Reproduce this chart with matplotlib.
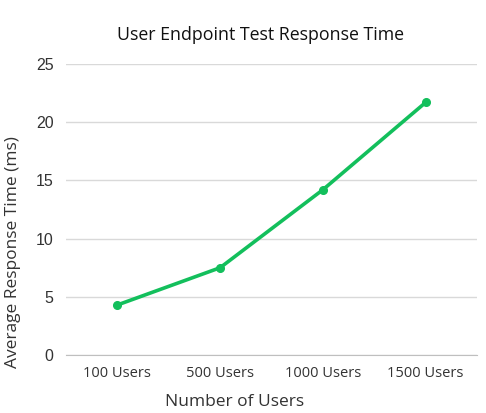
import matplotlib
matplotlib.use("Agg")
import matplotlib.pyplot as plt

categories = ["100 Users", "500 Users", "1000 Users", "1500 Users"]
response_ms = [4.3, 7.5, 14.2, 21.7]
y_ticks = [0, 5, 10, 15, 20, 25]

plt.rcParams['font.family'] = ['Open Sans', 'DejaVu Sans']

fig = plt.figure(figsize=(4.86, 4.13), dpi=100)
ax = fig.add_axes([0.1358, 0.1404, 0.8457, 0.7046])

x = list(range(len(categories)))
ax.plot(x, response_ms, color="#13bf5c", linewidth=2.6, marker="o", markersize=5.5, zorder=3)

ax.set_xlim(-0.5, len(categories) - 0.5)
ax.set_ylim(0, 25)
ax.set_yticks(y_ticks)
ax.set_xticks(x)
ax.set_xticklabels(categories)
ax.grid(axis="y", color="#d9d9d9", linewidth=1)
ax.set_axisbelow(True)
for s in ["top", "right", "left"]:
    ax.spines[s].set_visible(False)
ax.spines["bottom"].set_color("#bfbfbf")
ax.tick_params(axis="x", length=0, labelsize=10.5, colors="#333333", pad=8)
ax.tick_params(axis="y", length=0, labelsize=11.5, colors="#333333", pad=9)
for lab in ax.get_yticklabels():
    lab.set_family(["Liberation Sans", "DejaVu Sans"])

ax.set_ylabel("Average Response Time (ms)", fontsize=12.5, color="#333333")
ax.yaxis.set_label_coords(-0.11, 0.355)
ax.set_xlabel("Number of Users", fontsize=12.5, color="#333333")
ax.xaxis.set_label_coords(0.411, -0.135)
fig.text(0.537, 0.915, "User Endpoint Test Response Time", ha="center", va="center",
         fontsize=12.8, color="#111111", family=["Open Sans", "DejaVu Sans"], fontweight="medium")

fig.savefig("out.png", dpi=100, facecolor="white")
